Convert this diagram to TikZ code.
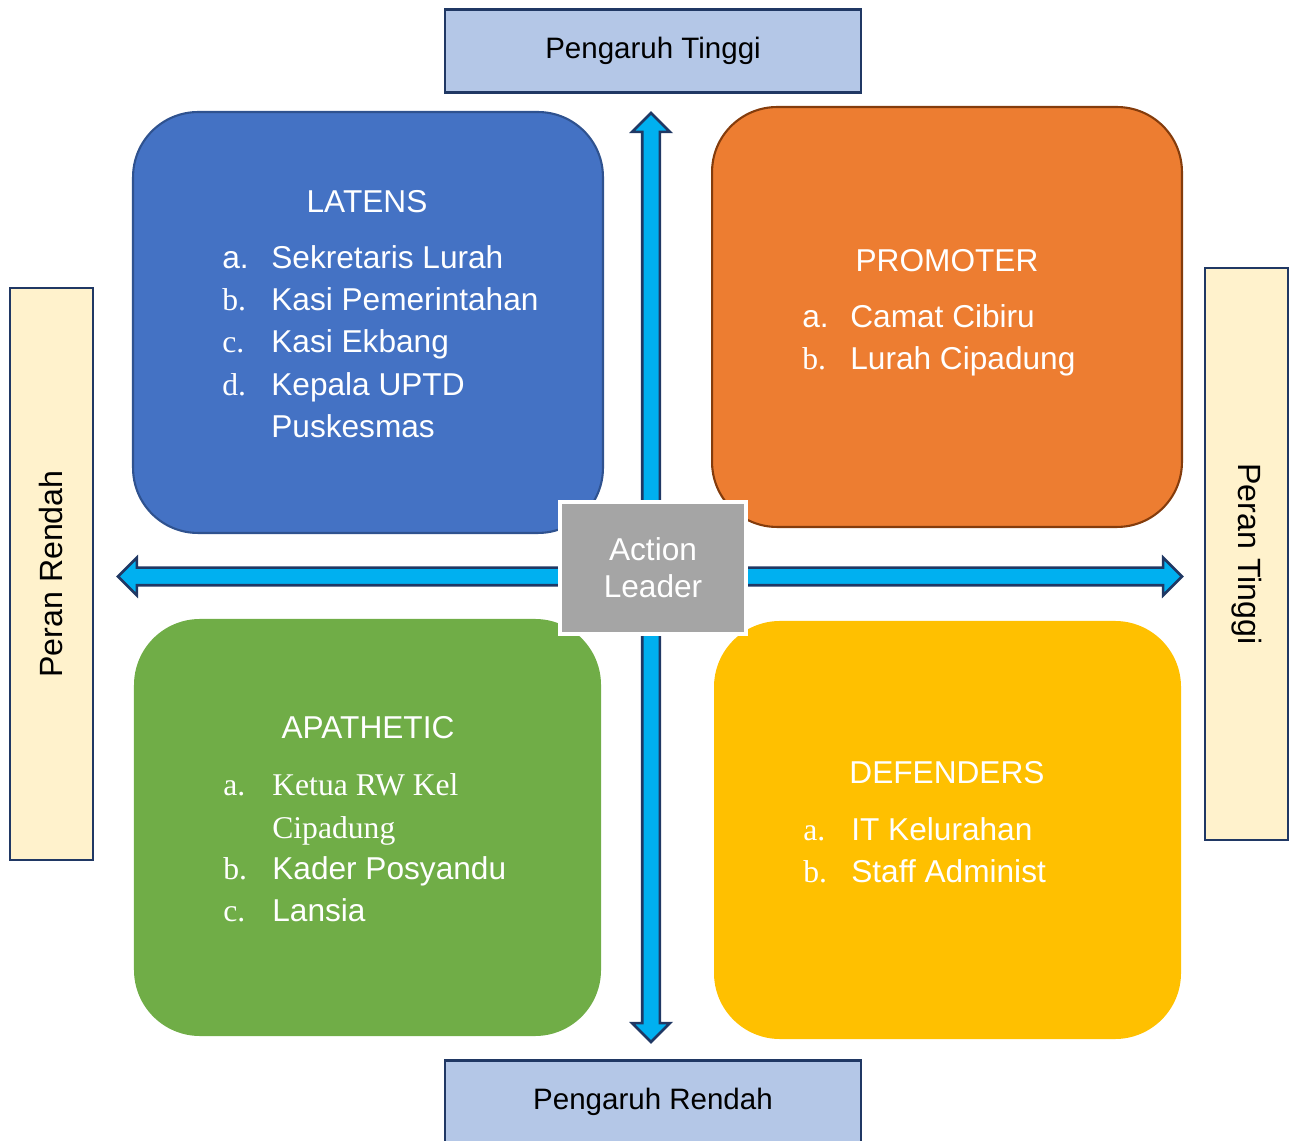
\documentclass[tikz,border=0pt]{standalone}
\usepackage{fontspec}
\setmainfont{Liberation Sans}
\newfontfamily\tnr{Liberation Serif}
\usepackage{tikz}
\usetikzlibrary{shapes.arrows}
\usetikzlibrary{calc}
\definecolor{navy}{HTML}{203864}
\definecolor{latensblue}{HTML}{4472C4}
\definecolor{latensline}{HTML}{2F528F}
\definecolor{promorange}{HTML}{ED7D31}
\definecolor{promline}{HTML}{843C0C}
\definecolor{apagreen}{HTML}{70AD47}
\definecolor{defyellow}{HTML}{FFC000}
\definecolor{leadgray}{HTML}{A5A5A5}
\definecolor{axiscyan}{HTML}{00B0F0}
\definecolor{topblue}{HTML}{B4C7E7}
\definecolor{sidecream}{HTML}{FFF2CC}
\tikzstyle{quadbox}=[rectangle,rounded corners=1.3cm,line width=1.2pt,inner sep=0pt]
\tikzstyle{sidebox}=[rectangle,draw=navy,line width=1.6pt,inner sep=0pt,font=\fontsize{16.8}{19}\selectfont]
\tikzstyle{axis} = [double arrow,fill=axiscyan,draw=navy,line width=1.5pt,inner xsep=0pt,inner ysep=0.15cm,
   double arrow head extend=0.2cm,double arrow tip angle=90]
\tikzstyle{head} = [font=\fontsize{18}{22}\selectfont,text=white,anchor=base,inner sep=0pt]
\tikzstyle{item} = [font=\fontsize{18}{22}\selectfont,text=white,anchor=base west,inner sep=0pt]

\begin{document}
\begin{tikzpicture}[x=0.02cm, y=-0.02cm]

    \useasboundingbox (0,0) rectangle (1295,1141);

    % side labels
    \node[sidebox, fill=topblue, minimum width=8.32cm, minimum height=1.66cm] (hi) at (653,51) {Pengaruh Tinggi};
    \node[sidebox, fill=topblue, minimum width=8.32cm, minimum height=1.66cm] (lo) at (653,1102) {Pengaruh Rendah};
    \node[sidebox, fill=sidecream, minimum width=1.66cm, minimum height=11.44cm] (pr) at (51.5,574) {};
    \node[rotate=90, font=\fontsize{18.3}{21}\selectfont] (prtxt) at (pr.center) {Peran Rendah};
    \node[sidebox, fill=sidecream, minimum width=1.66cm, minimum height=11.44cm] (pt) at (1246.5,554) {};
    \node[rotate=-90, font=\fontsize{18.3}{21}\selectfont] (pttxt) at (pt.center) {Peran Tinggi};

    % axes
    \node[axis, minimum height=18.58cm, rotate=90] (vaxis) at (651,577.5) {};
    \node[axis, minimum height=21.28cm] (haxis) at (650,576.5) {};

    % quadrants
    \foreach \pos/\w/\h/\col/\line/\name in {{(368,322.5)/9.4cm/8.42cm/latensblue/latensline/latens},
                                            {(947,317)/9.4cm/8.4cm/promorange/promline/promoter},
                                            {(367.5,827.5)/9.3cm/8.3cm/apagreen/apagreen/apathetic},
                                            {(947.5,830)/9.3cm/8.32cm/defyellow/defyellow/defenders}}
        \node[quadbox, fill=\col, draw=\line, minimum width=\w, minimum height=\h] (\name) at \pos {};

    \node[head] (latens-h) at (367,213) {LATENS};
    \node[head] (promoter-h) at (947,272) {PROMOTER};
    \node[head] (apathetic-h) at (368,739) {APATHETIC};
    \node[head] (defenders-h) at (947,784) {DEFENDERS};

    \foreach \y/\lbl/\txt in {269/{a.}/{Sekretaris Lurah}, 311/{\tnr b.}/{Kasi Pemerintahan},
                              353/{\tnr c.}/{Kasi Ekbang}, 396/{\tnr d.}/{Kepala UPTD}}
    {
        \node[item] (latens-l\y) at (222,\y) {\lbl};
        \node[item] (latens-t\y) at (271,\y) {\txt};
    }
    \node[item] (latens-more) at (271,438) {Puskesmas};

    \foreach \y/\lbl/\txt in {328/{a.}/{Camat Cibiru}, 370/{\tnr b.}/{Lurah Cipadung}}
    {
        \node[item] (promoter-l\y) at (802,\y) {\lbl};
        \node[item] (promoter-t\y) at (850,\y) {\txt};
    }

    \foreach \y/\lbl/\txt in {795/{\tnr a.}/{\tnr Ketua RW Kel}, 838/{}/{\tnr Cipadung},
                              879/{\tnr b.}/{Kader Posyandu}, 921/{\tnr c.}/{Lansia}}
    {
        \node[item] (apathetic-l\y) at (223,\y) {\lbl};
        \node[item] (apathetic-t\y) at (272,\y) {\txt};
    }

    \foreach \y/\lbl/\txt in {840/{\tnr a.}/{IT Kelurahan}, 882/{\tnr b.}/{Staff Administ}}
    {
        \node[item] (defenders-l\y) at (803,\y) {\lbl};
        \node[item] (defenders-t\y) at (851,\y) {\txt};
    }

    % centre
    \node[rectangle, fill=leadgray, draw=white, line width=1.8pt, minimum width=3.72cm, minimum height=2.64cm,
          text=white, align=center, font=\fontsize{18}{21}\selectfont] (lead) at (653,568) {Action\\Leader};

\end{tikzpicture}
\end{document}
